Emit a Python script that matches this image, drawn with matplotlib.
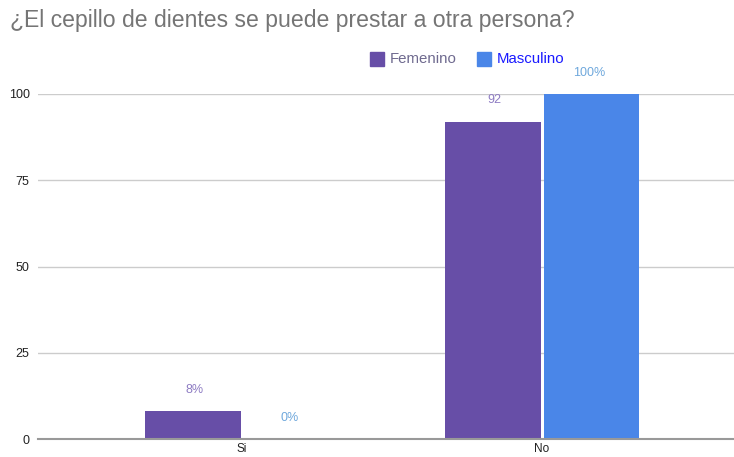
import numpy as np
import matplotlib
matplotlib.use("Agg")
import matplotlib.pyplot as plt

categories = ["Si", "No"]
femenino = [8, 92]
masculino = [0, 100]
fem_labels = ["8%", "92"]
mas_labels = ["0%", "100%"]
yticks = [0, 25, 50, 75, 100]

FEM_COLOR = "#674ea7"
MAS_COLOR = "#4a86e8"

plt.rcParams["font.family"] = ["Liberation Sans", "DejaVu Sans"]

fig = plt.figure(figsize=(7.34, 4.57), dpi=100)
ax = fig.add_axes([38 / 734, 1 - 439 / 457, 1 - 38 / 734, (439 - 94) / 457])

x = np.arange(len(categories))
w = 0.317
ax.bar(x - w / 2 - 0.005, femenino, w, color=FEM_COLOR, zorder=3)
ax.bar(x + w / 2 + 0.005, masculino, w, color=MAS_COLOR, zorder=3)

for i in range(len(categories)):
    ax.annotate(fem_labels[i], (x[i] - w / 2, femenino[i]), xytext=(0, 11),
                textcoords="offset points", ha="center", va="bottom",
                fontsize=9, color="#8e7cc3", annotation_clip=False)
    ax.annotate(mas_labels[i], (x[i] + w / 2, masculino[i]), xytext=(0, 11),
                textcoords="offset points", ha="center", va="bottom",
                fontsize=9, color="#6fa8dc", annotation_clip=False)

ax.set_xlim(-0.68, 1.64)
ax.set_ylim(0, 100)
ax.set_yticks(yticks)
ax.set_xticks(x)
ax.set_xticklabels(categories)
ax.tick_params(axis="y", length=0, labelsize=9, colors="#222222", pad=6)
ax.tick_params(axis="x", length=0, labelsize=8.5, colors="#222222", pad=3)
ax.grid(axis="y", color="#cccccc", linewidth=1, zorder=0)
for s in ["top", "right", "left"]:
    ax.spines[s].set_visible(False)
ax.spines["bottom"].set_color("#999999")
ax.spines["bottom"].set_linewidth(1.5)
ax.spines["bottom"].set_zorder(4)

fig.text(10 / 734, 1 - 20 / 457, "¿El cepillo de dientes se puede prestar a otra persona?",
         fontsize=16.6, color="#757575", va="center", ha="left")

# legend
fig.patches.append(plt.Rectangle((370 / 734, 1 - 66 / 457), 14 / 734, 14 / 457,
                                 transform=fig.transFigure, color=FEM_COLOR))
fig.text(390 / 734, 1 - 59 / 457, "Femenino", fontsize=10.8, color="#6f6a8f", va="center")
fig.patches.append(plt.Rectangle((477 / 734, 1 - 66 / 457), 14 / 734, 14 / 457,
                                 transform=fig.transFigure, color=MAS_COLOR))
fig.text(497 / 734, 1 - 59 / 457, "Masculino", fontsize=10.8, color="#1a1aff", va="center")

fig.savefig("out.png", dpi=100)
